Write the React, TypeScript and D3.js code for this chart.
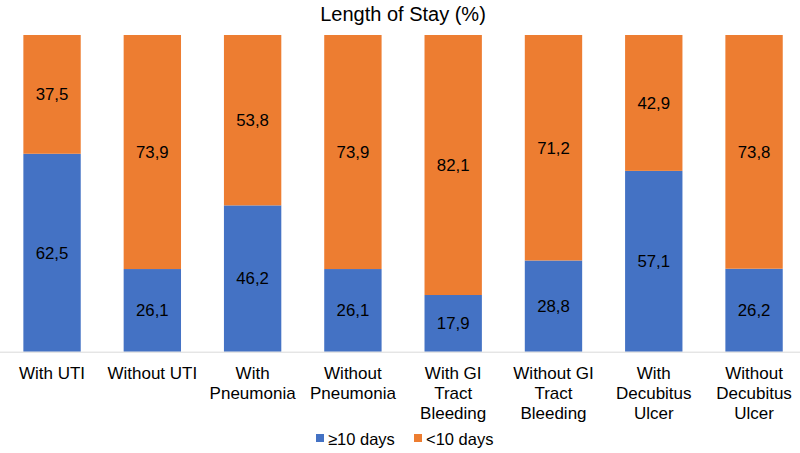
import { useEffect, useRef } from 'react';
import * as d3 from 'd3';

const categories = [
  ['With UTI'],
  ['Without UTI'],
  ['With', 'Pneumonia'],
  ['Without', 'Pneumonia'],
  ['With GI', 'Tract', 'Bleeding'],
  ['Without GI', 'Tract', 'Bleeding'],
  ['With', 'Decubitus', 'Ulcer'],
  ['Without', 'Decubitus', 'Ulcer'],
];
const over10 = [62.5, 26.1, 46.2, 26.1, 17.9, 28.8, 57.1, 26.2];
const under10 = [37.5, 73.9, 53.8, 73.9, 82.1, 71.2, 42.9, 73.8];
const seriesNames = ['≥10 days', '<10 days'];
const colors = ['#4472C4', '#ED7D31'];

const fmt = (v: number) => v.toFixed(1).replace('.', ',');

export default function App() {
  const svgRef = useRef<SVGSVGElement>(null);

  useEffect(() => {
    if (!svgRef.current) return;
    const width = 800;
    const height = 453;
    const font = 'Liberation Sans, Arial, Helvetica, sans-serif';

    const svg = d3.select(svgRef.current);
    svg.selectAll('*').remove();
    svg.attr('width', width).attr('height', height).attr('font-family', font);

    const x = d3.scaleBand<number>()
      .domain(d3.range(categories.length))
      .range([1.9, 804.2])
      .paddingInner(0.428)
      .paddingOuter(0.214);

    const y = d3.scaleLinear().domain([0, 100]).range([351.7, 35]);

    // Title
    svg.append('text')
      .attr('x', 403)
      .attr('y', 21)
      .attr('text-anchor', 'middle')
      .attr('font-size', '20px')
      .attr('fill', '#000')
      .text('Length of Stay (%)');

    const stacked = d3.stack<number>()
      .keys(['a', 'b'])
      .value((i, key) => (key === 'a' ? over10[i] : under10[i]))(d3.range(categories.length));

    stacked.forEach((layer, li) => {
      svg.append('g')
        .selectAll('rect')
        .data(layer)
        .enter()
        .append('rect')
        .attr('x', d => x(d.data) || 0)
        .attr('y', d => y(d[1]))
        .attr('width', x.bandwidth())
        .attr('height', d => y(d[0]) - y(d[1]))
        .attr('fill', colors[li]);

      svg.append('g')
        .selectAll('text')
        .data(layer)
        .enter()
        .append('text')
        .attr('x', d => (x(d.data) || 0) + x.bandwidth() / 2)
        .attr('y', d => (y(d[0]) + y(d[1])) / 2)
        .attr('dy', '0.35em')
        .attr('text-anchor', 'middle')
        .attr('font-size', '16.8px')
        .attr('fill', '#000')
        .text(d => fmt(d[1] - d[0]));
    });

    // Baseline
    svg.append('line')
      .attr('x1', 0)
      .attr('x2', width)
      .attr('y1', y(0) + 0.5)
      .attr('y2', y(0) + 0.5)
      .attr('stroke', '#d9d9d9')
      .attr('stroke-width', 1);

    // Category labels
    const labels = svg.append('g')
      .selectAll('text')
      .data(categories)
      .enter()
      .append('text')
      .attr('text-anchor', 'middle')
      .attr('font-size', '17px')
      .attr('fill', '#000');
    labels.each(function (lines, i) {
      const t = d3.select(this);
      lines.forEach((line, j) => {
        t.append('tspan')
          .attr('x', (x(i) || 0) + x.bandwidth() / 2)
          .attr('y', 378.5 + j * 20)
          .text(line);
      });
    });

    // Legend
    const legendX = [316, 414];
    seriesNames.forEach((name, i) => {
      svg.append('rect')
        .attr('x', legendX[i])
        .attr('y', 434)
        .attr('width', 8)
        .attr('height', 8)
        .attr('fill', colors[i]);
      svg.append('text')
        .attr('x', legendX[i] + 12)
        .attr('y', 444.5)
        .attr('font-size', '16.5px')
        .attr('fill', '#000')
        .text(name);
    });
  }, []);

  return (
    <svg
      ref={svgRef}
      style={{ position: 'absolute', left: 0, top: 0, display: 'block' }}
    />
  );
}
